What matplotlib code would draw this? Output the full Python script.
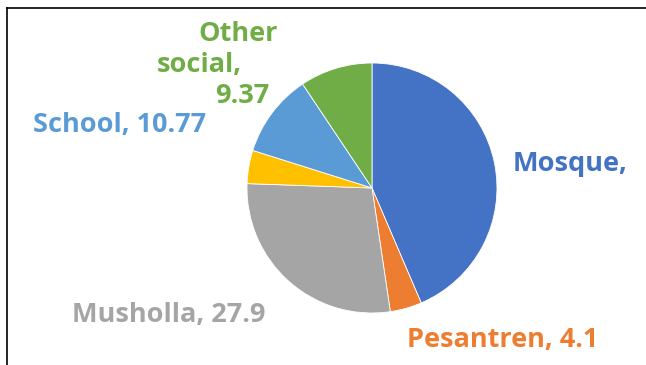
"""Pie chart of facility shares (Mosque, Pesantren, Musholla, ...)."""

import matplotlib
matplotlib.use('Agg')
import matplotlib.pyplot as plt
from matplotlib.lines import Line2D

CATEGORIES = ['Mosque', 'Pesantren', 'Musholla', '', 'School', 'Other social']
VALUES = [43.56, 4.1, 27.9, 4.3, 10.77, 9.37]
COLORS = ['#4472C4', '#ED7D31', '#A5A5A5', '#FFC000', '#5B9BD5', '#70AD47']
# label text as shown in the chart (Mosque value is cut off in the original)
LABEL_LINES = [['Mosque,'], ['Pesantren, 4.1'], ['Musholla, 27.9'], [],
               ['School, 10.77'], ['Other', 'social,', '9.37']]

W, H = 646, 365
fig = plt.figure(figsize=(W / 100, H / 100), dpi=100)

# pie axes: centre (372, 188) px, radius 125 px
cx, cy, r = 372, 188, 125
ax = fig.add_axes([(cx - r) / W, (H - cy - r) / H, 2 * r / W, 2 * r / H])
ax.pie(VALUES, colors=COLORS, startangle=90, counterclock=False, radius=1,
       wedgeprops={'edgecolor': 'white', 'linewidth': 0.6})
ax.set_xlim(-1, 1)
ax.set_ylim(-1, 1)
ax.set_aspect('equal')
ax.axis('off')

# label anchor points in pixel coords (x, y centre, alignment) per line
LABEL_POS = [[(513, 161, 'left')],
             [(407, 337, 'left')],
             [(72, 312, 'left')],
             [],
             [(33, 122, 'left')],
             [(278, 31, 'right'), (242, 62, 'right'), (269, 93, 'right')]]

for lines, poss, col in zip(LABEL_LINES, LABEL_POS, COLORS):
    for txt, (px, py, ha) in zip(lines, poss):
        ax.text((px - cx) / r, (cy - py) / r, txt, color=col, ha=ha, va='center_baseline',
                fontsize=19.5, fontweight='bold', family=['Open Sans', 'DejaVu Sans'],
                clip_on=False)

# frame: only left and top edges visible in the crop
fig.add_artist(Line2D([7 / W, 7 / W], [0, 1 - 8 / H], color='black', lw=1.2,
                      transform=fig.transFigure))
fig.add_artist(Line2D([7 / W, 1], [1 - 8 / H, 1 - 8 / H], color='black', lw=1.2,
                      transform=fig.transFigure))

fig.savefig('out.png', dpi=100)
